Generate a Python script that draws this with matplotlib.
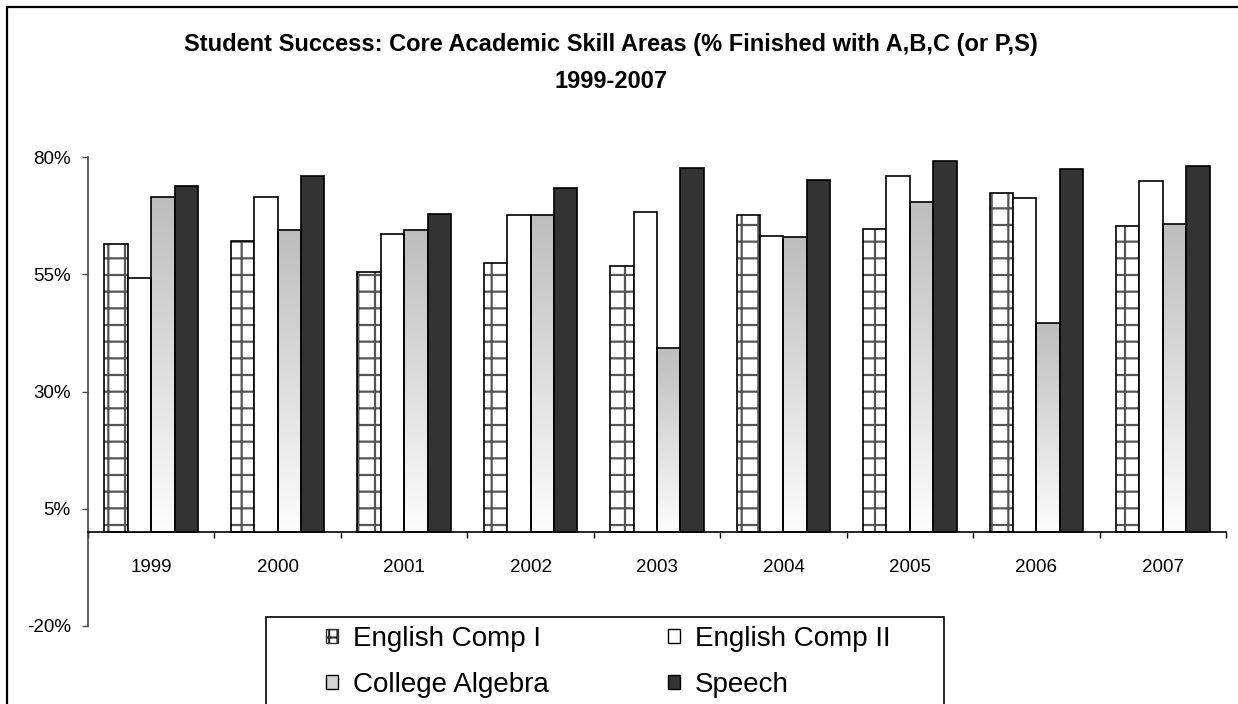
import numpy as np
import matplotlib
matplotlib.use("Agg")
import matplotlib.pyplot as plt
from matplotlib.patches import Patch, Rectangle
from matplotlib.colors import LinearSegmentedColormap

years = ["1999", "2000", "2001", "2002", "2003", "2004", "2005", "2006", "2007"]
comp1 = [61.5, 62.2, 55.6, 57.5, 56.8, 67.6, 64.7, 72.4, 65.4]
comp2 = [54.3, 71.6, 63.6, 67.6, 68.4, 63.3, 76.0, 71.3, 74.9]
algebra = [71.6, 64.4, 64.4, 67.6, 39.3, 62.9, 70.5, 44.7, 65.8]
speech = [73.8, 76.1, 68.0, 73.5, 77.8, 75.2, 79.3, 77.4, 78.2]
series_names = ["English Comp I", "English Comp II", "College Algebra", "Speech"]
yticks = [-20, 5, 30, 55, 80]

plt.rcParams['font.family'] = ['Liberation Sans', 'DejaVu Sans']
plt.rcParams['hatch.linewidth'] = 1.6

W, H = 1238, 704
fig = plt.figure(figsize=(W / 100, H / 100), dpi=100)
ax = fig.add_axes([88 / W, 1 - 626 / H, (1226 - 88) / W, (626 - 157.3) / H])

x = np.arange(len(years)) + 0.5
bw = 0.185
offs = np.array([-1.5, -0.5, 0.5, 1.5]) * bw

# English Comp I: grid hatch in grey, black outline on top
ax.bar(x + offs[0], comp1, bw, facecolor="white", edgecolor="#555555", hatch="+", linewidth=0, zorder=2)
ax.bar(x + offs[0], comp1, bw, fill=False, edgecolor="black", linewidth=1.2, zorder=3)

# English Comp II: plain white
ax.bar(x + offs[1], comp2, bw, facecolor="white", edgecolor="black", linewidth=1.2, zorder=3)

# College Algebra: grey-to-white gradient
grad_cmap = LinearSegmentedColormap.from_list("g", ["#fdfdfd", "#bdbdbd"])
alg_bars = ax.bar(x + offs[2], algebra, bw, facecolor="none", edgecolor="black", linewidth=1.2, zorder=3)
grad = np.linspace(0, 1, 256).reshape(-1, 1)
for b in alg_bars:
    x0 = b.get_x()
    h = b.get_height()
    im = ax.imshow(grad, extent=(x0, x0 + bw, 0, h), origin="lower", cmap=grad_cmap,
                   aspect="auto", zorder=2, interpolation="bilinear")
    im.set_clip_path(b)

# Speech: dark fill
ax.bar(x + offs[3], speech, bw, facecolor="#333333", edgecolor="black", linewidth=1.2, zorder=3)

ax.set_xlim(0, len(years))
ax.set_ylim(-20, 80)
ax.set_aspect("auto")

ax.spines["top"].set_visible(False)
ax.spines["right"].set_visible(False)
ax.spines["bottom"].set_position(("data", 0))
ax.spines["bottom"].set_linewidth(1.2)
ax.spines["left"].set_color("#444444")
ax.spines["left"].set_linewidth(1.2)

ax.set_yticks(yticks)
ax.set_yticklabels([f"{t}%" for t in yticks], fontsize=13.5)
ax.tick_params(axis="y", direction="out", length=4.5, width=1, color="#444444", pad=8)

ax.set_xticks(x)
ax.set_xticklabels(years, fontsize=13.5)
ax.set_xticks(np.arange(len(years) + 1), minor=True)
ax.tick_params(axis="x", which="major", length=0, pad=19)
ax.tick_params(axis="x", which="minor", direction="out", length=4.5, width=1)

fig.text(611 / W, 1 - 45 / H, "Student Success: Core Academic Skill Areas (% Finished with A,B,C (or P,S)",
         ha="center", va="center", fontsize=17, fontweight="bold")
fig.text(611 / W, 1 - 82 / H, "1999-2007", ha="center", va="center", fontsize=17, fontweight="bold")

# outer chart border
fig.patches.append(Rectangle((7 / W, -0.05), 1.2, 1 - 7 / H + 0.05, transform=fig.transFigure,
                             fill=False, edgecolor="black", linewidth=1.6))
# legend frame
fig.patches.append(Rectangle((266 / W, -0.05), (944 - 266) / W, 1 - 617 / H + 0.05,
                             transform=fig.transFigure, fill=False, edgecolor="black", linewidth=1.2))

handles = {
    "English Comp I": Patch(facecolor="white", edgecolor="#333333", hatch="++", linewidth=1),
    "English Comp II": Patch(facecolor="white", edgecolor="black", linewidth=1),
    "College Algebra": Patch(facecolor="#d4d4d4", edgecolor="black", linewidth=1),
    "Speech": Patch(facecolor="#333333", edgecolor="black", linewidth=1),
}
# legend fills column by column, so order to get rows: Comp I | Comp II, Algebra | Speech
order = [series_names[0], series_names[2], series_names[1], series_names[3]]
fig.legend([handles[n] for n in order], order, loc="upper left", bbox_to_anchor=(312 / W, 1 - 612 / H),
           ncol=2, frameon=False, fontsize=20, borderpad=0, handlelength=0.42, handleheight=0.42,
           handletextpad=0.55, columnspacing=4.3, labelspacing=0.72)

fig.savefig("out.png", dpi=100)
